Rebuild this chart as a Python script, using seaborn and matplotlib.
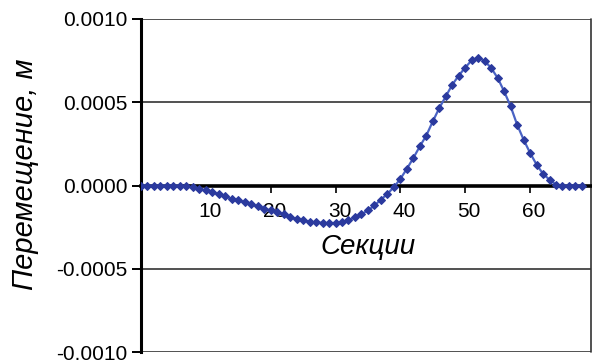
import matplotlib
matplotlib.use("Agg")
import matplotlib.pyplot as plt
import matplotlib.transforms as mtransforms
import seaborn as sns
import pandas as pd
import numpy as np

sections = list(range(0, 69))
displacement = [
    0.0, 0.0, 0.0, 0.0, 0.0, 0.0, 0.0, -0.000005, -0.000012, -0.00002,
    -0.00003, -0.00004, -0.000054, -0.000066, -0.00008, -0.00009, -0.000102, -0.000114, -0.000126, -0.00014,
    -0.00015, -0.00016, -0.000172, -0.00019, -0.0002, -0.00021, -0.000217, -0.000222, -0.000225, -0.000226,
    -0.000225, -0.00022, -0.000208, -0.000192, -0.000172, -0.00015, -0.00012, -0.000085, -0.00005, -0.00001,
    0.00004, 0.0001, 0.000165, 0.000235, 0.0003, 0.000385, 0.000465, 0.000535, 0.000605, 0.00066,
    0.000708, 0.000752, 0.000768, 0.000748, 0.000706, 0.000646, 0.000566, 0.000476, 0.000366, 0.000276,
    0.000196, 0.000126, 0.00007, 0.000035, 0.000005, 0.0, 0.0, 0.0, 0.0,
]
x_ticks = [10, 20, 30, 40, 50, 60]
y_ticks = [-0.0010, -0.0005, 0.0, 0.0005, 0.0010]
x_label = "Секции"
y_label = "Перемещение, м"

sns.set_theme(style="white")
plt.rcParams["font.family"] = ["Liberation Sans", "DejaVu Sans"]
plt.rcParams["axes.unicode_minus"] = False

df = pd.DataFrame({"x": sections, "y": displacement})

fig = plt.figure(figsize=(5.92, 3.62), dpi=100)
ax = fig.add_axes([141 / 592, 1 - 352 / 362, 450 / 592, 333 / 362])

for yv in y_ticks:
    ax.axhline(yv, color="#222222", lw=1.1, zorder=1)

sns.lineplot(data=df, x="x", y="y", ax=ax, color="#4a63c4", lw=1.6,
             marker="D", markersize=4.2, markerfacecolor="#2b3a9e",
             markeredgecolor="#2b3a9e", zorder=3)

ax.set_xlim(0, 69.4)
ax.set_ylim(-0.0010, 0.0010)
ax.set_xticks(x_ticks)
ax.set_xticklabels([str(t) for t in x_ticks])
ax.set_yticks(y_ticks)
ax.set_yticklabels([f"{v:.4f}" for v in y_ticks])

ax.spines["bottom"].set_position(("data", 0))
ax.spines["bottom"].set_linewidth(2.6)
ax.spines["bottom"].set_color("black")
ax.spines["bottom"].set_zorder(2)
ax.spines["left"].set_linewidth(2.2)
ax.spines["left"].set_color("black")
for s in ["top", "right"]:
    ax.spines[s].set_visible(False)
ax.axvline(69.4, color="#333333", lw=1.2, clip_on=False)

ax.tick_params(axis="x", direction="out", length=5, width=1.2, color="black",
               labelsize=15, pad=7, labelcolor="black", bottom=True)
ax.tick_params(axis="y", direction="out", length=6.5, width=1.4, color="black",
               labelsize=15, pad=3, labelcolor="black", left=True)

offset = mtransforms.ScaledTranslation(4 / 100, 0, fig.dpi_scale_trans)
for lbl in ax.get_xticklabels():
    lbl.set_transform(lbl.get_transform() + offset)

ax.set_xlabel("")
ax.set_ylabel("")
ax.text(0.505, 0.315, x_label, transform=ax.transAxes, ha="center", va="center",
        fontsize=20, style="italic", color="black")
fig.text(25 / 592, 1 - 174 / 362, y_label, rotation=90, ha="center", va="center",
         fontsize=21, style="italic", color="black")

fig.savefig("out.png", dpi=100, facecolor="white")
